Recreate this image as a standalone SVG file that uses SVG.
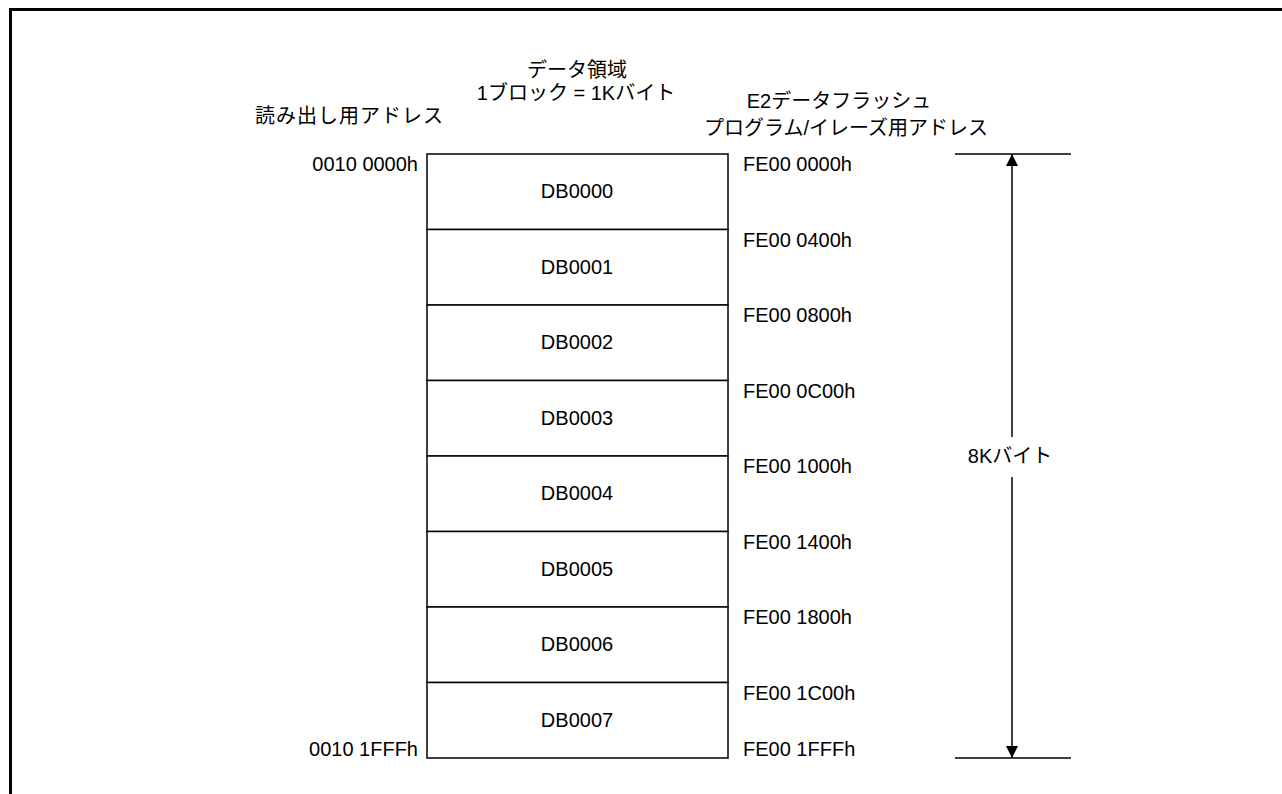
<svg xmlns="http://www.w3.org/2000/svg" width="1282" height="794" viewBox="0 0 1282 794">
<style>
text{font-family:"Liberation Sans","Noto Sans CJK JP",sans-serif;font-size:20px;fill:#000}
.c{text-anchor:middle}
.e{text-anchor:end}
.blk{fill:#fff;stroke:#000;stroke-width:1.5}
.ln{stroke:#000;stroke-width:1.5;fill:none}
</style>
<defs>
<marker id="ah" viewBox="0 0 12 12" refX="12" refY="6" markerWidth="12" markerHeight="12" markerUnits="userSpaceOnUse" orient="auto">
<path d="M0,0 L12,6 L0,12 Z" fill="#000"/>
</marker>
</defs>
<rect width="1282" height="794" fill="#fff"/>
<g id="frame">
<line x1="9" y1="9.5" x2="1282" y2="9.5" stroke="#000" stroke-width="3"/>
<line x1="10.5" y1="8" x2="10.5" y2="794" stroke="#000" stroke-width="3"/>
</g>
<g id="headers">
<text class="c" x="577" y="77">データ領域</text>
<text class="c" x="576" y="100">1ブロック = 1Kバイト</text>
<text x="255" y="123" textLength="188" lengthAdjust="spacing">読み出し用アドレス</text>
<text class="c" x="839" y="108">E2データフラッシュ</text>
<text class="c" x="846" y="135">プログラム/イレーズ用アドレス</text>
</g>
<g id="DB0000"><rect class="blk" x="427" y="154" width="301" height="75.5"/><text class="c" x="577" y="198">DB0000</text></g>
<g id="DB0001"><rect class="blk" x="427" y="229.5" width="301" height="75.5"/><text class="c" x="577" y="273.5">DB0001</text></g>
<g id="DB0002"><rect class="blk" x="427" y="305" width="301" height="75.5"/><text class="c" x="577" y="349">DB0002</text></g>
<g id="DB0003"><rect class="blk" x="427" y="380.5" width="301" height="75.5"/><text class="c" x="577" y="424.5">DB0003</text></g>
<g id="DB0004"><rect class="blk" x="427" y="456" width="301" height="75.5"/><text class="c" x="577" y="500">DB0004</text></g>
<g id="DB0005"><rect class="blk" x="427" y="531.5" width="301" height="75.5"/><text class="c" x="577" y="575.5">DB0005</text></g>
<g id="DB0006"><rect class="blk" x="427" y="607" width="301" height="75.5"/><text class="c" x="577" y="651">DB0006</text></g>
<g id="DB0007"><rect class="blk" x="427" y="682.5" width="301" height="75.5"/><text class="c" x="577" y="726.5">DB0007</text></g>
<g id="read-addresses">
<text class="e" x="418" y="171">0010 0000h</text>
<text class="e" x="418" y="756">0010 1FFFh</text>
</g>
<g id="pe-addresses">
<text x="743" y="171">FE00 0000h</text>
<text x="743" y="246.5">FE00 0400h</text>
<text x="743" y="322">FE00 0800h</text>
<text x="743" y="397.5">FE00 0C00h</text>
<text x="743" y="473">FE00 1000h</text>
<text x="743" y="548.5">FE00 1400h</text>
<text x="743" y="624">FE00 1800h</text>
<text x="743" y="699.5">FE00 1C00h</text>
<text x="743" y="756">FE00 1FFFh</text>
</g>
<g id="connectors">
<line class="ln" x1="955" y1="154" x2="1071" y2="154"/>
<line class="ln" x1="955" y1="758" x2="1071" y2="758"/>
<line class="ln" x1="1012" y1="437" x2="1012" y2="154" marker-end="url(#ah)"/>
<line class="ln" x1="1012" y1="477" x2="1012" y2="758" marker-end="url(#ah)"/>
</g>
<g id="size-label">
<text class="c" x="1010" y="463">8Kバイト</text>
</g>
</svg>
